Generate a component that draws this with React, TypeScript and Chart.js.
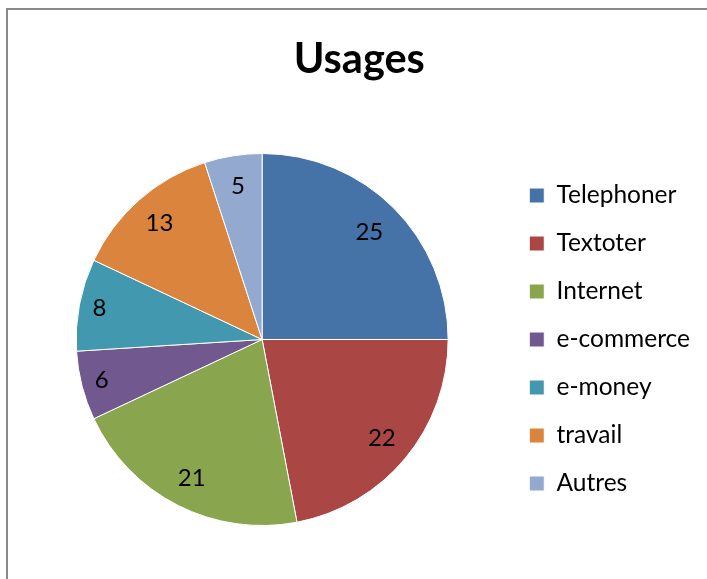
import React, { useEffect, useRef } from "react";
import { Chart, registerables } from "chart.js";

Chart.register(...registerables);

const TITLE = "Usages";
const categories = ["Telephoner", "Textoter", "Internet", "e-commerce", "e-money", "travail", "Autres"];
const values = [25, 22, 21, 6, 8, 13, 5];
const colors = ["#4572A7", "#AA4643", "#89A54E", "#71588F", "#4198AF", "#DB843D", "#93A9CF"];

const FONT = "Lato, 'Open Sans', sans-serif";

const valueLabels = {
  id: "valueLabels",
  afterDatasetsDraw(chart: any) {
    const ctx = chart.ctx;
    const meta = chart.getDatasetMeta(0);
    const data = chart.data.datasets[0].data as number[];
    const total = data.reduce((a, b) => a + b, 0);
    ctx.save();
    ctx.font = `24px ${FONT}`;
    ctx.fillStyle = "#000";
    ctx.textAlign = "center";
    ctx.textBaseline = "middle";
    meta.data.forEach((arc: any, i: number) => {
      const p = arc.getProps(["x", "y", "startAngle", "endAngle", "outerRadius"], true);
      const mid = (p.startAngle + p.endAngle) / 2;
      const frac = data[i] / total;
      const f = frac < 0.1 && frac > 0.055 ? 0.89 : frac >= 0.24 ? 0.815 : 0.835;
      const r = p.outerRadius * f;
      ctx.fillText(String(data[i]), p.x + Math.cos(mid) * r, p.y + Math.sin(mid) * r);
    });
    ctx.restore();
  },
};

export default function App() {
  const ref = useRef<HTMLCanvasElement>(null);
  useEffect(() => {
    if (!ref.current) return;
    const chart = new Chart(ref.current, {
      type: "pie",
      data: {
        labels: categories,
        datasets: [
          {
            data: values,
            backgroundColor: colors,
            borderColor: "#ffffff",
            borderWidth: 1,
            hoverOffset: 0,
          },
        ],
      },
      options: {
        responsive: false,
        animation: false,
        devicePixelRatio: 1,
        layout: { padding: { left: 18.5, right: 18, top: 0, bottom: 53 } },
        plugins: {
          title: {
            display: true,
            text: TITLE,
            color: "#000",
            font: { family: FONT, size: 41.5, weight: "bold" },
            padding: { top: 35, bottom: 68.2 },
          },
          legend: {
            display: true,
            position: "right",
            fullSize: false,
            labels: {
              color: "#000",
              font: { family: FONT, size: 24.5 },
              boxWidth: 15,
              boxHeight: 15,
              padding: 23.5,
            },
          },
          tooltip: { enabled: false },
        },
      },
      plugins: [valueLabels],
    });
    return () => chart.destroy();
  }, []);
  return (
    <div style={{ position: "absolute", left: 0, top: 0, width: 707, height: 579, overflow: "hidden", background: "#fff" }}>
      <div
        style={{
          position: "absolute",
          left: 6,
          top: 8,
          width: 800,
          height: 700,
          borderLeft: "2px solid #8a8a8a",
          borderTop: "2px solid #8a8a8a",
        }}
      />
      <canvas ref={ref} width={718} height={579} style={{ position: "absolute", left: 0, top: 0, width: 718, height: 579 }} />
    </div>
  );
}
